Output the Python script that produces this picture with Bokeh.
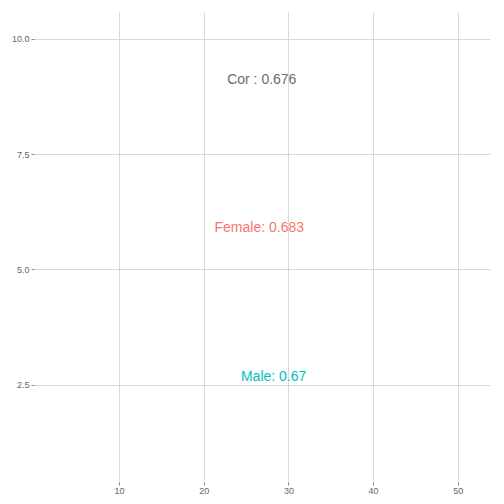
from bokeh.plotting import figure
from bokeh.embed import file_html
from bokeh.resources import INLINE
from bokeh.models import Range1d, FixedTicker, CustomJSTickFormatter
from bokeh.core.properties import value

x_ticks = [10, 20, 30, 40, 50]
y_ticks = [2.5, 5.0, 7.5, 10.0]
labels = ["Cor : 0.676", "Female: 0.683", "Male: 0.67"]
label_x = [26.8, 26.5, 28.2]
label_y = [9.14, 5.93, 2.69]
label_colors = ["#6b6b6b", "#F8766D", "#00BFC4"]

p = figure(width=496, height=496, output_backend="svg", toolbar_location=None,
           x_range=Range1d(-0.03, 53.8), y_range=Range1d(0.39, 10.58),
           min_border_left=34, min_border_right=6, min_border_top=12, min_border_bottom=11)
p.outline_line_color = None
for ax in (p.xaxis, p.yaxis):
    ax.axis_line_color = None
    ax.major_tick_line_color = "#888888"
    ax.major_tick_out = 3
    ax.major_tick_in = 0
    ax.minor_tick_line_color = None
    ax.major_label_text_color = "#666666"
    ax.major_label_text_font_size = "9px"
    ax.major_label_text_font = "Liberation Sans"
    ax.major_label_standoff = 2
p.xaxis.ticker = FixedTicker(ticks=x_ticks)
p.yaxis.ticker = FixedTicker(ticks=y_ticks)
p.yaxis.formatter = CustomJSTickFormatter(code="return tick.toFixed(1);")
p.xgrid.ticker = FixedTicker(ticks=x_ticks)
p.ygrid.ticker = FixedTicker(ticks=y_ticks)
p.grid.grid_line_color = "#d9d9d9"
p.grid.grid_line_width = 1

p.text(x=label_x, y=label_y, text=labels, text_color=label_colors,
       text_align="center", text_baseline="middle", text_font_size="14px",
       text_font=value("Liberation Sans"))

open("out.html", "w").write(file_html(p, INLINE))
